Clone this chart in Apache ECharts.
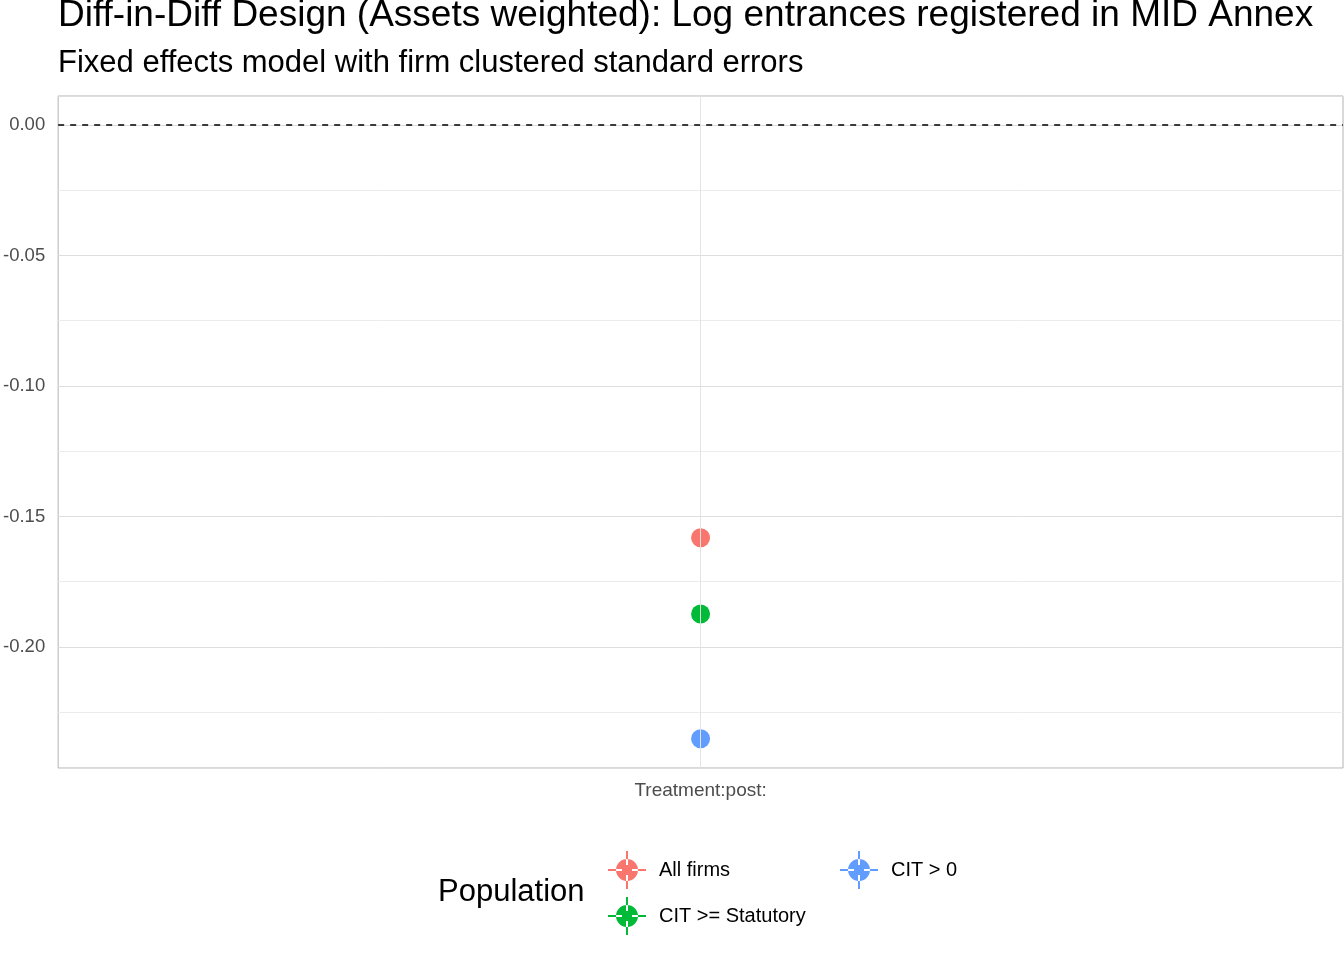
<!DOCTYPE html>
<html><head><meta charset="utf-8">
<script src="https://cdn.jsdelivr.net/npm/echarts@6/dist/echarts.min.js"></script>
<style>html,body{margin:0;padding:0;background:#fff}#c{width:1344px;height:960px}</style>
</head><body><div id="c"></div>
<script>
// estimates
const categories = ['Treatment:post:']
const populations = ['All firms', 'CIT >= Statutory', 'CIT > 0']
const estimates = [-0.1582, -0.1874, -0.2352]
const colors = ['#F8766D', '#00BA38', '#619CFF']

const icon = 'path://M0,9h7v1H0z M12,9h7v1h-7z M9,0h1v7H9z M9,12h1v7H9z M9.5,4a5.5,5.5 0 1 0 0.001 0z'
const FONT = 'Liberation Sans'

const chart = echarts.init(document.getElementById('c'))

const series = populations.map((name, i) => ({
  name,
  type: 'scatter',
  data: [[0, estimates[i]]],
  symbolSize: 19,
  itemStyle: { color: colors[i], opacity: 1 },
  markLine: i === 0 ? {
    silent: true, symbol: 'none', label: { show: false },
    lineStyle: { color: '#000', type: [6, 6], width: 1.6 },
    data: [{ yAxis: 0 }]
  } : undefined
}))

const legendBase = {
  orient: 'vertical', icon, itemWidth: 38, itemHeight: 38, itemGap: 8,
  textStyle: { fontFamily: FONT, fontSize: 20, color: '#000', padding: [0, 0, 0, 8] }
}

chart.setOption({
  animation: false,
  title: [
    { text: 'Diff-in-Diff Design (Assets weighted): Log entrances registered in MID Annex', left: 53, top: -8,
      textStyle: { fontFamily: FONT, fontSize: 37, fontWeight: 'normal', color: '#000' } },
    { text: 'Fixed effects model with firm clustered standard errors', left: 53, top: 43,
      textStyle: { fontFamily: FONT, fontSize: 31, fontWeight: 'normal', color: '#000' } },
    { text: 'Population', left: 433, top: 872,
      textStyle: { fontFamily: FONT, fontSize: 31, fontWeight: 'normal', color: '#000' } }
  ],
  legend: [
    { ...legendBase, data: populations.slice(0, 2), left: 603, top: 846 },
    { ...legendBase, data: populations.slice(2), left: 835, top: 846 }
  ],
  grid: { left: 58, right: 1, top: 96, bottom: 192, show: true, borderColor: '#b3b3b3', borderWidth: 1 },
  xAxis: {
    type: 'category', data: categories, boundaryGap: true,
    axisLine: { show: false }, axisTick: { show: false },
    axisLabel: { fontFamily: FONT, fontSize: 19, color: '#4d4d4d', margin: 13 },
    splitLine: { show: false }
  },
  yAxis: {
    type: 'value', min: -0.2464, max: 0.0111, splitNumber: 5,
    axisLine: { show: false }, axisTick: { show: false },
    axisLabel: { fontFamily: FONT, fontSize: 18.5, color: '#4d4d4d', margin: 13,
      formatter: v => v.toFixed(2), showMinLabel: false, showMaxLabel: false },
    splitLine: { show: true, lineStyle: { color: '#dedede', width: 1 } },
    minorTick: { show: false, splitNumber: 2 },
    minorSplitLine: { show: true, lineStyle: { color: '#ececec', width: 1 } }
  },
  series: series.concat([{
    type: 'line', data: [], markLine: {
      silent: true, symbol: 'none', label: { show: false },
      lineStyle: { color: '#e3e3e3', type: 'solid', width: 1 },
      data: [{ xAxis: 0 }]
    }
  }])
})
</script></body></html>
